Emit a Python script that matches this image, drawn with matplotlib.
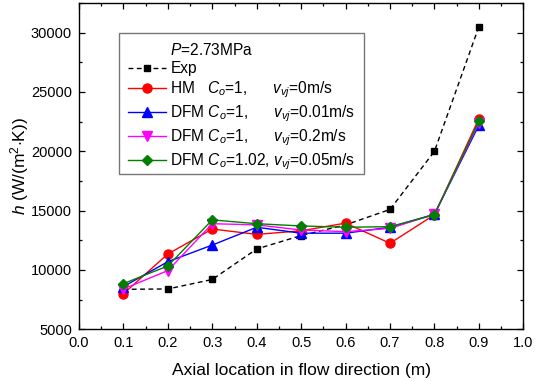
import numpy as np
import matplotlib
matplotlib.use('Agg')
import matplotlib.pyplot as plt
from matplotlib.lines import Line2D
from matplotlib.ticker import MultipleLocator

plt.rcParams['font.family'] = ['Liberation Sans', 'DejaVu Sans']
plt.rcParams['mathtext.fontset'] = 'custom'
plt.rcParams['mathtext.rm'] = 'Liberation Sans'
plt.rcParams['mathtext.it'] = 'Liberation Sans:italic'
plt.rcParams['mathtext.default'] = 'it'

# Data
x = [0.1, 0.2, 0.3, 0.4, 0.5, 0.6, 0.7, 0.8, 0.9]
h_exp = [8370, 8400, 9200, 11770, 12900, 13800, 15100, 20000, 30500]
h_hm = [8000, 11350, 13450, 13000, 13300, 13950, 12250, 14650, 22750]
h_dfm_001 = [8600, 10700, 12100, 13600, 13100, 13100, 13600, 14700, 22200]
h_dfm_02 = [8400, 9950, 13900, 13800, 13370, 13230, 13500, 14700, 22400]
h_dfm_c102 = [8850, 10340, 14220, 13900, 13710, 13600, 13650, 14650, 22550]

labels = ['Exp',
          r'HM   $C_o$=1,      $v_{vj}$=0m/s',
          r'DFM $C_o$=1,      $v_{vj}$=0.01m/s',
          r'DFM $C_o$=1,      $v_{vj}$=0.2m/s',
          r'DFM $C_o$=1.02, $v_{vj}$=0.05m/s']

fig = plt.figure(figsize=(5.36, 3.81), dpi=100)
ax = fig.add_axes([0.1474, 0.1357, 0.8289, 0.8564])

l_exp, = ax.plot(x, h_exp, color='black', linestyle=(0, (3.5, 2.5)), linewidth=1.0,
                 marker='s', markersize=5)
l_hm, = ax.plot(x, h_hm, color='#FF0000', linewidth=1.0, marker='o', markersize=6.5)
l_b, = ax.plot(x, h_dfm_001, color='#0000FF', linewidth=1.0, marker='^', markersize=7)
l_m, = ax.plot(x, h_dfm_02, color='#FF00FF', linewidth=1.0, marker='v', markersize=7)
l_g, = ax.plot(x, h_dfm_c102, color='#007F00', linewidth=1.0, marker='D', markersize=5.5)

ax.set_xlim(0.0, 1.0)
ax.set_ylim(5000, 32500)
ax.xaxis.set_major_locator(MultipleLocator(0.1))
ax.xaxis.set_minor_locator(MultipleLocator(0.05))
ax.yaxis.set_major_locator(MultipleLocator(5000))
ax.yaxis.set_minor_locator(MultipleLocator(2500))
ax.xaxis.set_major_formatter(matplotlib.ticker.FormatStrFormatter('%.1f'))
ax.tick_params(which='both', direction='in', top=True, right=True, labelsize=10.5, width=0.9)
ax.tick_params(which='major', length=4.5, pad=5)
ax.tick_params(which='minor', length=2.5)
for s in ax.spines.values():
    s.set_linewidth(1.0)

ax.set_xlabel('Axial location in flow direction (m)', fontsize=12.5, labelpad=9)
ax.set_ylabel(r'$h$ (W/(m$^{2}$$\cdot$K))', fontsize=12.5, labelpad=0)

# blank handle so the pressure note lines up with the labels
title_handle = Line2D([], [], linestyle='none')
leg = ax.legend([title_handle, l_exp, l_hm, l_b, l_m, l_g],
                [r'$P$=2.73MPa'] + labels,
                loc='upper left', bbox_to_anchor=(0.090, 0.908), fontsize=11.2,
                frameon=True, fancybox=False, edgecolor='#777777', framealpha=1,
                handlelength=2.45, handletextpad=0.3, labelspacing=0.22,
                borderpad=0.55, borderaxespad=0)
leg.get_frame().set_linewidth(1.0)

# trim the extra space mathtext leaves under the last row
_set_bounds = leg.legendPatch.set_bounds
def trimmed_bounds(*args):
    x0, y0, w, h = args[0] if len(args) == 1 else args
    _set_bounds(x0, y0 + 7, w, h - 7)
leg.legendPatch.set_bounds = trimmed_bounds

fig.savefig('out.png', dpi=100)
